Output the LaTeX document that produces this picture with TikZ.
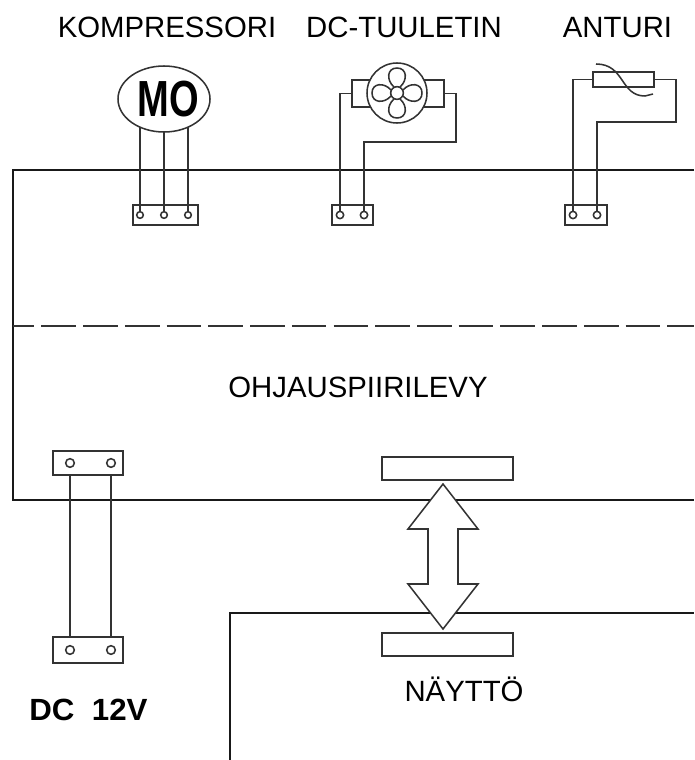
\documentclass[tikz,border=0pt]{standalone}
\usepackage{fontspec}
\usetikzlibrary{shapes.geometric}
\setmainfont{Liberation Sans}
\tikzset{
  wire/.style={line width=1.15pt,draw=black!80},
  frame/.style={line width=1.7pt,draw=black!90},
  block/.style={rectangle,draw=black!80,line width=1.15pt,fill=white,inner sep=0pt},
  hole/.style={circle,draw=black!80,line width=1.15pt,fill=white,inner sep=0pt,minimum size=6.5pt},
  label/.style={inner sep=0pt,font=\fontsize{22pt}{24pt}\selectfont}
}
\begin{document}
\begin{tikzpicture}[x=0.75pt,y=-0.75pt]
\useasboundingbox (0,0) rectangle (694,760);

% boards
\draw[frame] (694,170) -- (13,170) -- (13,500) -- (694,500);
\draw[frame] (230,760) -- (230,613) -- (694,613);
\draw[wire,dash pattern=on 26pt off 5.3pt,dash phase=10pt] (13,326) -- (694,326);

% labels
\node[label,anchor=base] (kompressori) at (167,37) {KOMPRESSORI};
\node[label,anchor=base] (tuuletin) at (404,37) {DC-TUULETIN};
\node[label,anchor=base] (anturi) at (617.5,37) {ANTURI};
\node[label,anchor=base] (piirilevy) at (358,397) {OHJAUSPIIRILEVY};
\node[label,anchor=base] (naytto) at (464,701) {NÄYTTÖ};
\node[inner sep=0pt] (dc) at (88.5,710) {\scalebox{1.02}[1]{\fontsize{23pt}{26pt}\selectfont\bfseries DC\ \ 12V}};

% compressor
\node[block,minimum width=48.75pt,minimum height=15pt] (mob) at (165.5,215) {};
\coordinate (mo1) at (140,127);
\coordinate (mo2) at (164,132);
\coordinate (mo3) at (188,127);
\node[hole,minimum size=5pt] (moh1) at (140,215) {};
\node[hole,minimum size=5pt] (moh2) at (164,215) {};
\node[hole,minimum size=5pt] (moh3) at (188,215) {};
\draw[wire] (mo1) -- (moh1);
\draw[wire] (mo2) -- (moh2);
\draw[wire] (mo3) -- (moh3);
\node[ellipse,draw=black!80,line width=1.15pt,minimum width=69pt,minimum height=49.5pt,inner sep=0pt] (mo) at (164,99) {};
\node[inner sep=0pt] (motext) at (168.5,99.5) {\scalebox{0.84}[1.12]{\fontsize{34pt}{36pt}\selectfont\bfseries MO}};

% fan
\node[block,minimum width=30.75pt,minimum height=15pt] (fanb) at (352.5,215) {};
\node[hole,minimum size=5.5pt] (fanh1) at (340,215) {};
\node[hole,minimum size=5.5pt] (fanh2) at (364,215) {};
\node[block,minimum width=69pt,minimum height=20.25pt] (fans) at (398,93.5) {};
\draw[wire] (fanh1) |- (fans.west);
\coordinate (fanc) at (456,142);
\draw[wire] (fans.east) -| (fanc) -- (fanh2 |- fanc) -- (fanh2);
\node[circle,draw=black!80,line width=1.15pt,fill=white,minimum size=45pt,inner sep=0pt] (fan) at (397,93) {};
\begin{scope}[shift={(397,93)}]
\foreach \a in {0,90,180,270}
  \draw[wire,rotate=\a] (-3,-6) .. controls (-11,-13) and (-10,-25) .. (0,-25) .. controls (10,-25) and (11,-13) .. (3,-6);
\end{scope}
\node[circle,draw=black!80,line width=1.15pt,fill=white,minimum size=9.5pt,inner sep=0pt] (fanm) at (397,93) {};

% sensor
\node[block,minimum width=31.5pt,minimum height=15pt] (senb) at (586,215) {};
\node[hole,minimum size=5.5pt] (senh1) at (573,215) {};
\node[hole,minimum size=5.5pt] (senh2) at (597,215) {};
\node[block,minimum width=45.75pt,minimum height=11.25pt] (sens) at (623.5,79.5) {};
\draw[wire] (senh1) |- (sens.west);
\coordinate (senc) at (676,122);
\draw[wire] (sens.east) -| (senc) -- (senh2 |- senc) -- (senh2);
\draw[wire] (596,64) .. controls (625,64) and (620,96) .. (645,96) -- (653,94);

% dc supply
\node[block,minimum width=52.5pt,minimum height=18pt] (dct) at (88,463) {};
\node[hole] (dch1) at (70,463) {};
\node[hole] (dch2) at (111,463) {};
\node[block,minimum width=52.5pt,minimum height=19.5pt] (dcb) at (88,650) {};
\node[hole] (dch3) at (70,650) {};
\node[hole] (dch4) at (111,650) {};
\draw[wire] (dch1 |- dct.south) -- (dch3 |- dcb.north);
\draw[wire] (dch2 |- dct.south) -- (dch4 |- dcb.north);

% display link
\node[block,minimum width=98.25pt,minimum height=17.25pt] (cont) at (447.5,468.5) {};
\node[block,minimum width=98.25pt,minimum height=17.25pt] (conb) at (447.5,644.5) {};
\draw[wire,fill=white,line join=miter] (443,484) -- (478,529) -- (458,529) -- (458,584) -- (478,584) -- (443,629) -- (408,584) -- (428,584) -- (428,529) -- (408,529) -- cycle;
\end{tikzpicture}
\end{document}
